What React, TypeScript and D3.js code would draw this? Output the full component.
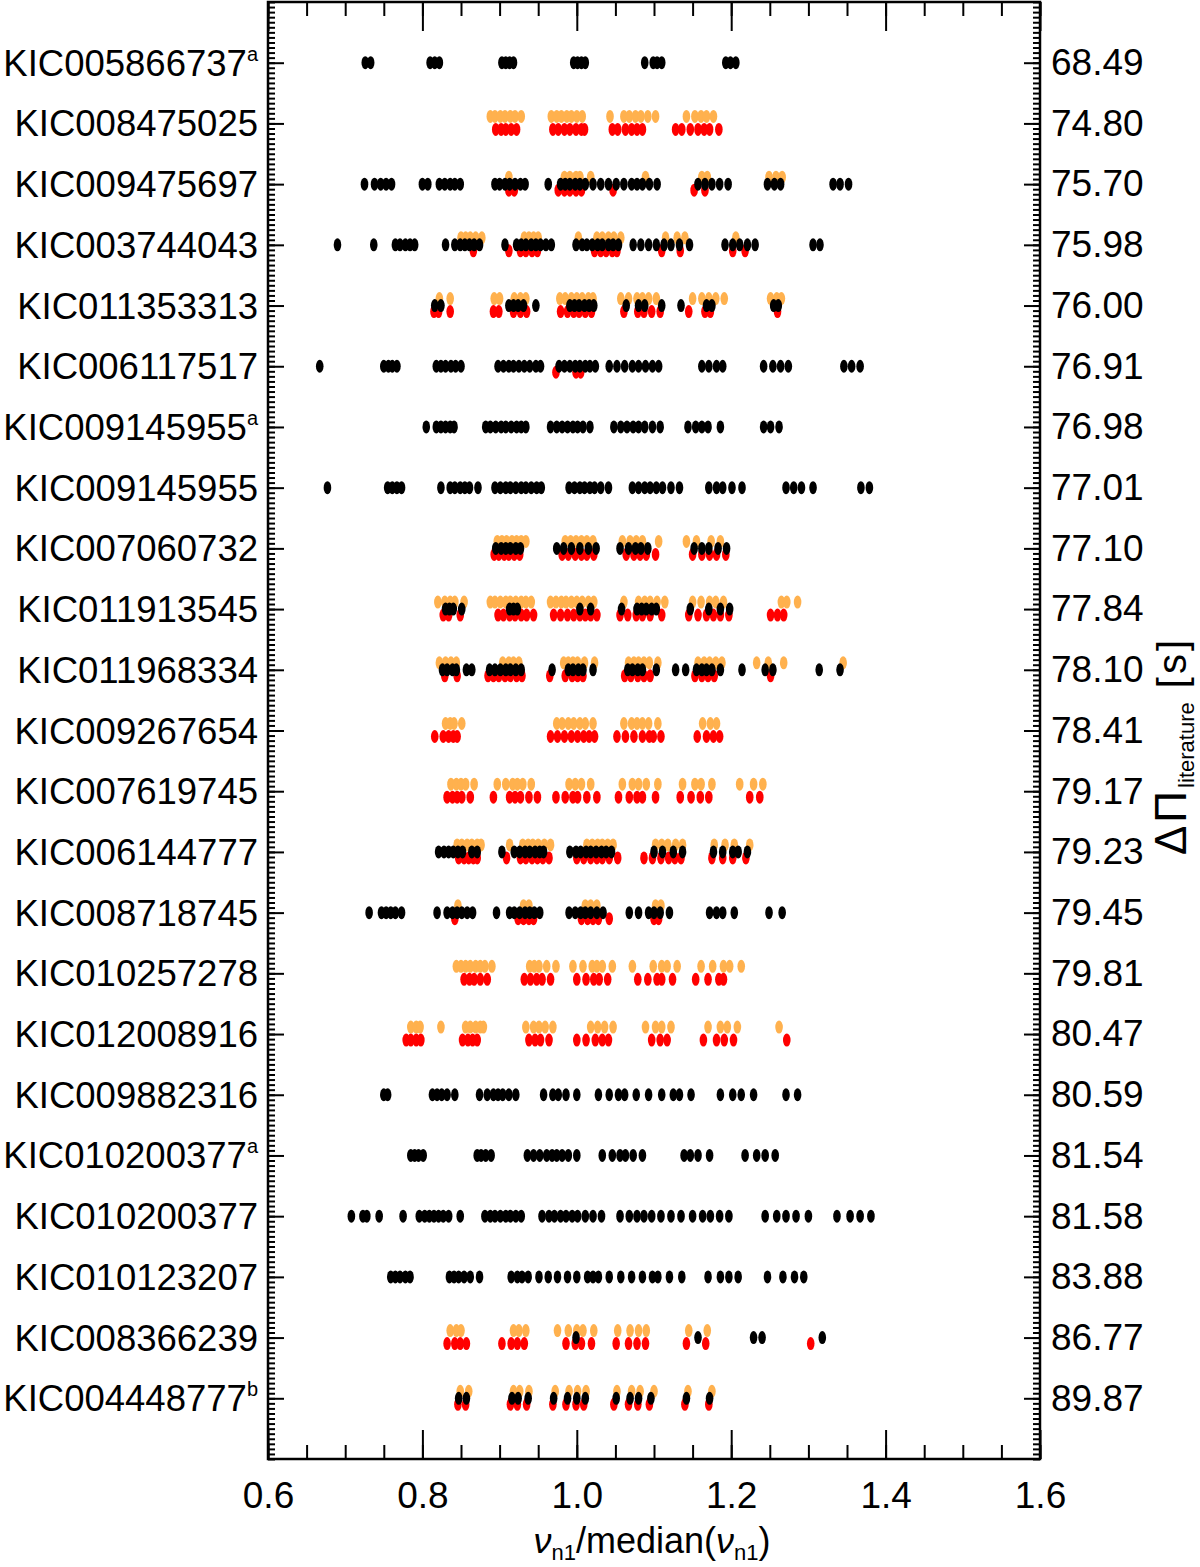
import React, { useEffect, useRef } from "react";
import * as d3 from "d3";

// canvas and plot box
const width = 1200;
const height = 1567;
const plot = { left: 268, right: 1040, top: 2, bottom: 1459 };
const font = "'Liberation Sans', Arial, sans-serif";

// stars, top to bottom
const stars = [
  "KIC005866737", "KIC008475025", "KIC009475697", "KIC003744043", "KIC011353313",
  "KIC006117517", "KIC009145955", "KIC009145955", "KIC007060732", "KIC011913545",
  "KIC011968334", "KIC009267654", "KIC007619745", "KIC006144777", "KIC008718745",
  "KIC010257278", "KIC012008916", "KIC009882316", "KIC010200377", "KIC010200377",
  "KIC010123207", "KIC008366239", "KIC004448777",
];
const notes = ["a", "", "", "", "", "", "a", "", "", "", "", "", "", "", "", "", "", "", "a", "", "", "", "b"];
const deltaPi = [
  "68.49", "74.80", "75.70", "75.98", "76.00", "76.91", "76.98", "77.01", "77.10", "77.84",
  "78.10", "78.41", "79.17", "79.23", "79.45", "79.81", "80.47", "80.59", "81.54", "81.58",
  "83.88", "86.77", "89.87",
];

const xTicks = [0.6, 0.8, 1.0, 1.2, 1.4, 1.6];

// nu / median(nu), one list per star
const blackPoints: number[][] = [
  [0.726, 0.733, 0.81, 0.816, 0.822, 0.903, 0.908, 0.913, 0.918, 0.996, 1.001, 1.006, 1.011, 1.088, 1.099, 1.104, 1.11, 1.193, 1.199, 1.206],
  [],
  [0.725, 0.738, 0.746, 0.753, 0.76, 0.8, 0.807, 0.822, 0.829, 0.836, 0.842, 0.849, 0.894, 0.9, 0.907, 0.913, 0.92, 0.927, 0.933, 0.963, 0.979, 0.985, 0.991, 0.998, 1.004, 1.011, 1.021, 1.031, 1.041, 1.051, 1.061, 1.071, 1.078, 1.085, 1.094, 1.104, 1.157, 1.166, 1.175, 1.185, 1.196, 1.247, 1.256, 1.264, 1.332, 1.341, 1.352],
  [0.69, 0.737, 0.765, 0.771, 0.778, 0.784, 0.79, 0.83, 0.842, 0.849, 0.855, 0.861, 0.867, 0.874, 0.907, 0.922, 0.928, 0.934, 0.941, 0.947, 0.953, 0.96, 0.967, 0.999, 1.007, 1.013, 1.02, 1.027, 1.033, 1.041, 1.047, 1.054, 1.073, 1.083, 1.093, 1.103, 1.113, 1.122, 1.133, 1.146, 1.192, 1.202, 1.211, 1.221, 1.231, 1.306, 1.315],
  [0.816, 0.824, 0.912, 0.918, 0.924, 0.931, 0.947, 0.991, 0.997, 1.003, 1.01, 1.016, 1.022, 1.064, 1.08, 1.088, 1.11, 1.135, 1.168, 1.175, 1.255, 1.261],
  [0.667, 0.75, 0.756, 0.761, 0.767, 0.818, 0.824, 0.83, 0.837, 0.843, 0.85, 0.898, 0.905, 0.912, 0.918, 0.925, 0.932, 0.939, 0.947, 0.953, 0.977, 0.984, 0.991, 0.998, 1.004, 1.011, 1.017, 1.024, 1.042, 1.052, 1.062, 1.072, 1.08, 1.089, 1.098, 1.106, 1.162, 1.171, 1.181, 1.189, 1.242, 1.254, 1.264, 1.274, 1.346, 1.356, 1.367],
  [0.805, 0.818, 0.824, 0.83, 0.836, 0.841, 0.882, 0.888, 0.895, 0.902, 0.908, 0.915, 0.922, 0.928, 0.934, 0.966, 0.974, 0.981, 0.988, 0.995, 1.001, 1.008, 1.017, 1.048, 1.057, 1.065, 1.073, 1.08, 1.088, 1.098, 1.108, 1.144, 1.154, 1.162, 1.17, 1.186, 1.242, 1.251, 1.262],
  [0.677, 0.755, 0.761, 0.767, 0.773, 0.824, 0.836, 0.842, 0.849, 0.855, 0.861, 0.872, 0.894, 0.901, 0.908, 0.914, 0.921, 0.928, 0.934, 0.941, 0.948, 0.954, 0.99, 0.997, 1.004, 1.01, 1.017, 1.023, 1.031, 1.041, 1.072, 1.08, 1.088, 1.095, 1.103, 1.111, 1.122, 1.133, 1.171, 1.181, 1.189, 1.201, 1.214, 1.271, 1.281, 1.291, 1.306, 1.368, 1.379],
  [0.895, 0.902, 0.908, 0.914, 0.921, 0.927, 0.974, 0.983, 0.993, 1.004, 1.015, 1.025, 1.056, 1.067, 1.076, 1.083, 1.092, 1.152, 1.162, 1.171, 1.183, 1.194],
  [0.83, 0.835, 0.84, 0.851, 0.913, 0.918, 0.923, 1.004, 1.018, 1.058, 1.078, 1.084, 1.09, 1.097, 1.103, 1.147, 1.171, 1.186, 1.198],
  [0.826, 0.832, 0.839, 0.844, 0.857, 0.864, 0.887, 0.894, 0.901, 0.908, 0.914, 0.921, 0.928, 0.968, 0.989, 0.995, 1.002, 1.008, 1.021, 1.066, 1.072, 1.079, 1.085, 1.103, 1.128, 1.141, 1.155, 1.162, 1.168, 1.175, 1.186, 1.214, 1.244, 1.254, 1.314, 1.341],
  [],
  [],
  [0.821, 0.828, 0.834, 0.84, 0.846, 0.852, 0.864, 0.871, 0.903, 0.919, 0.926, 0.933, 0.939, 0.946, 0.952, 0.957, 0.991, 0.999, 1.005, 1.012, 1.018, 1.025, 1.032, 1.038, 1.045, 1.1, 1.111, 1.125, 1.137, 1.177, 1.189, 1.202, 1.209, 1.221],
  [0.731, 0.747, 0.753, 0.759, 0.765, 0.773, 0.819, 0.832, 0.839, 0.845, 0.851, 0.858, 0.865, 0.896, 0.913, 0.919, 0.926, 0.933, 0.939, 0.945, 0.952, 0.99, 0.998, 1.005, 1.011, 1.018, 1.026, 1.034, 1.068, 1.08, 1.093, 1.1, 1.108, 1.12, 1.172, 1.181, 1.189, 1.204, 1.249, 1.266],
  [],
  [],
  [0.75, 0.755, 0.813, 0.819, 0.825, 0.832, 0.842, 0.874, 0.884, 0.892, 0.898, 0.904, 0.912, 0.921, 0.957, 0.969, 0.976, 0.986, 1.0, 1.028, 1.042, 1.054, 1.062, 1.077, 1.093, 1.11, 1.125, 1.133, 1.148, 1.186, 1.202, 1.213, 1.229, 1.271, 1.286],
  [0.785, 0.79, 0.795, 0.801, 0.871, 0.876, 0.882, 0.889, 0.936, 0.944, 0.952, 0.961, 0.968, 0.974, 0.981, 0.989, 1.0, 1.033, 1.046, 1.056, 1.063, 1.073, 1.085, 1.139, 1.147, 1.157, 1.172, 1.218, 1.233, 1.244, 1.257],
  [0.708, 0.723, 0.728, 0.744, 0.775, 0.796, 0.803, 0.809, 0.815, 0.821, 0.827, 0.834, 0.849, 0.881, 0.888, 0.894, 0.901, 0.908, 0.914, 0.921, 0.928, 0.955, 0.964, 0.971, 0.979, 0.986, 0.994, 1.001, 1.011, 1.021, 1.032, 1.056, 1.068, 1.078, 1.087, 1.097, 1.109, 1.122, 1.135, 1.15, 1.163, 1.173, 1.185, 1.197, 1.244, 1.259, 1.271, 1.284, 1.3, 1.337, 1.354, 1.367, 1.381],
  [0.759, 0.765, 0.771, 0.778, 0.784, 0.835, 0.841, 0.847, 0.854, 0.862, 0.874, 0.915, 0.923, 0.929, 0.937, 0.951, 0.963, 0.975, 0.988, 1.0, 1.014, 1.021, 1.028, 1.042, 1.057, 1.071, 1.085, 1.098, 1.105, 1.12, 1.136, 1.17, 1.186, 1.197, 1.209, 1.247, 1.267, 1.282, 1.294],
  [0.999, 1.157, 1.229, 1.24, 1.318],
  [0.847, 0.857, 0.916, 0.924, 0.937, 0.97, 0.988, 1.0, 1.011, 1.051, 1.069, 1.08, 1.096, 1.142, 1.172],
];

const orangePoints: number[][] = [
  [],
  [0.888, 0.894, 0.901, 0.907, 0.914, 0.92, 0.928, 0.967, 0.974, 0.98, 0.987, 0.993, 1.0, 1.007, 1.043, 1.061, 1.068, 1.076, 1.083, 1.092, 1.102, 1.142, 1.153, 1.161, 1.168, 1.177],
  [0.912, 0.984, 0.991, 0.999, 1.004, 1.018, 1.089, 1.162, 1.169, 1.249, 1.258, 1.266],
  [0.85, 0.856, 0.862, 0.869, 0.877, 0.932, 0.938, 0.944, 0.95, 1.002, 1.026, 1.033, 1.041, 1.048, 1.057, 1.115, 1.13, 1.14, 1.206],
  [0.822, 0.836, 0.893, 0.9, 0.919, 0.927, 0.934, 0.978, 0.985, 0.993, 1.0, 1.007, 1.015, 1.021, 1.057, 1.067, 1.078, 1.085, 1.093, 1.103, 1.15, 1.162, 1.171, 1.18, 1.191, 1.251, 1.259, 1.265],
  [],
  [],
  [],
  [0.897, 0.903, 0.909, 0.916, 0.922, 0.928, 0.934, 0.985, 0.992, 0.999, 1.006, 1.013, 1.021, 1.059, 1.069, 1.077, 1.085, 1.106, 1.142, 1.155, 1.174, 1.186],
  [0.82, 0.829, 0.836, 0.842, 0.854, 0.888, 0.894, 0.901, 0.908, 0.914, 0.921, 0.928, 0.934, 0.941, 0.966, 0.973, 0.98, 0.986, 0.993, 1.0, 1.007, 1.015, 1.022, 1.061, 1.08, 1.088, 1.095, 1.104, 1.114, 1.15, 1.161, 1.172, 1.18, 1.19, 1.265, 1.272, 1.286],
  [0.822, 0.83, 0.837, 0.844, 0.904, 0.912, 0.918, 0.925, 0.983, 0.989, 0.995, 1.001, 1.01, 1.023, 1.067, 1.074, 1.08, 1.087, 1.094, 1.105, 1.157, 1.165, 1.172, 1.18, 1.188, 1.233, 1.248, 1.268, 1.345],
  [0.83, 0.836, 0.841, 0.851, 0.974, 0.981, 0.989, 0.996, 1.004, 1.011, 1.021, 1.061, 1.071, 1.078, 1.085, 1.093, 1.105, 1.163, 1.173, 1.181],
  [0.837, 0.844, 0.85, 0.856, 0.867, 0.897, 0.908, 0.917, 0.923, 0.93, 0.941, 0.99, 0.998, 1.006, 1.018, 1.059, 1.072, 1.08, 1.09, 1.105, 1.137, 1.153, 1.161, 1.175, 1.211, 1.229, 1.241],
  [0.845, 0.851, 0.858, 0.864, 0.871, 0.876, 0.913, 0.93, 0.937, 0.943, 0.95, 0.958, 0.966, 1.013, 1.02, 1.027, 1.033, 1.04, 1.047, 1.102, 1.11, 1.118, 1.128, 1.137, 1.178, 1.192, 1.204, 1.224],
  [0.846, 0.931, 0.938, 1.011, 1.018, 1.026, 1.102, 1.109],
  [0.844, 0.85, 0.856, 0.862, 0.869, 0.875, 0.881, 0.89, 0.939, 0.945, 0.951, 0.961, 0.973, 0.995, 1.008, 1.02, 1.026, 1.033, 1.046, 1.072, 1.099, 1.11, 1.117, 1.13, 1.161, 1.176, 1.19, 1.198, 1.213],
  [0.785, 0.792, 0.797, 0.824, 0.856, 0.862, 0.869, 0.875, 0.879, 0.934, 0.944, 0.951, 0.959, 0.969, 1.018, 1.027, 1.036, 1.047, 1.089, 1.102, 1.11, 1.122, 1.17, 1.186, 1.195, 1.208, 1.262],
  [],
  [],
  [],
  [],
  [0.836, 0.844, 0.85, 0.918, 0.925, 0.934, 0.975, 0.989, 1.0, 1.008, 1.022, 1.053, 1.069, 1.08, 1.09, 1.145, 1.169],
  [0.849, 0.86, 0.918, 0.926, 0.938, 0.972, 0.99, 1.001, 1.012, 1.052, 1.071, 1.082, 1.1, 1.144, 1.175],
];

const redPoints: number[][] = [
  [],
  [0.895, 0.902, 0.908, 0.915, 0.922, 0.969, 0.976, 0.984, 0.991, 0.999, 1.006, 1.01, 1.046, 1.053, 1.063, 1.071, 1.078, 1.085, 1.128, 1.136, 1.147, 1.157, 1.165, 1.172, 1.184],
  [0.912, 0.919, 0.976, 0.984, 0.991, 0.999, 1.006, 1.047, 1.152, 1.166],
  [0.866, 0.912, 0.927, 0.934, 0.942, 0.949, 1.023, 1.031, 1.038, 1.046, 1.052, 1.11, 1.134, 1.202, 1.218],
  [0.815, 0.821, 0.836, 0.892, 0.899, 0.918, 0.927, 0.935, 0.979, 0.988, 0.996, 1.003, 1.011, 1.019, 1.061, 1.079, 1.087, 1.097, 1.108, 1.145, 1.166, 1.173, 1.26],
  [0.973, 0.999, 1.005],
  [],
  [],
  [0.893, 0.899, 0.906, 0.912, 0.919, 0.926, 0.981, 0.989, 0.998, 1.006, 1.013, 1.022, 1.064, 1.074, 1.082, 1.09, 1.102, 1.15, 1.162, 1.172, 1.181, 1.193],
  [0.827, 0.834, 0.849, 0.898, 0.905, 0.913, 0.92, 0.928, 0.935, 0.944, 0.97, 0.979, 0.988, 0.996, 1.004, 1.011, 1.018, 1.026, 1.056, 1.066, 1.077, 1.085, 1.095, 1.11, 1.145, 1.157, 1.168, 1.177, 1.186, 1.197, 1.251, 1.26, 1.268],
  [0.829, 0.845, 0.885, 0.892, 0.899, 0.907, 0.914, 0.922, 0.929, 0.965, 0.985, 0.994, 1.001, 1.008, 1.062, 1.07, 1.079, 1.087, 1.095, 1.153, 1.162, 1.17, 1.178, 1.251],
  [0.816, 0.827, 0.834, 0.84, 0.845, 0.966, 0.975, 0.984, 0.993, 1.001, 1.009, 1.016, 1.023, 1.052, 1.063, 1.074, 1.085, 1.094, 1.099, 1.109, 1.156, 1.168, 1.177, 1.185],
  [0.832, 0.839, 0.845, 0.851, 0.862, 0.892, 0.913, 0.92, 0.927, 0.938, 0.949, 0.973, 0.985, 0.995, 1.001, 1.013, 1.026, 1.054, 1.068, 1.078, 1.085, 1.102, 1.134, 1.148, 1.16, 1.171, 1.224, 1.237],
  [0.847, 0.854, 0.86, 0.866, 0.871, 0.909, 0.927, 0.934, 0.942, 0.949, 0.956, 0.964, 1.0, 1.009, 1.018, 1.026, 1.033, 1.042, 1.053, 1.087, 1.098, 1.109, 1.119, 1.127, 1.135, 1.175, 1.189, 1.202, 1.219],
  [0.842, 0.924, 0.931, 0.938, 0.944, 1.006, 1.014, 1.021, 1.028, 1.042, 1.1, 1.106],
  [0.854, 0.861, 0.867, 0.875, 0.884, 0.932, 0.94, 0.948, 0.955, 0.966, 1.0, 1.012, 1.022, 1.029, 1.04, 1.079, 1.092, 1.104, 1.11, 1.124, 1.154, 1.17, 1.184, 1.19],
  [0.779, 0.785, 0.792, 0.798, 0.852, 0.859, 0.865, 0.871, 0.938, 0.946, 0.953, 0.964, 1.0, 1.012, 1.024, 1.033, 1.041, 1.097, 1.108, 1.117, 1.164, 1.181, 1.191, 1.203, 1.272],
  [],
  [],
  [],
  [],
  [0.832, 0.842, 0.849, 0.857, 0.903, 0.915, 0.923, 0.932, 0.986, 0.998, 1.006, 1.019, 1.051, 1.067, 1.078, 1.089, 1.142, 1.167, 1.303],
  [0.846, 0.856, 0.914, 0.923, 0.935, 0.969, 0.986, 0.999, 1.009, 1.048, 1.067, 1.079, 1.094, 1.14, 1.171],
];

// draw order: orange under red under black
const layers = [
  { points: orangePoints, color: "#ffb14e", dy: -7 },
  { points: redPoints, color: "#ff0000", dy: 6 },
  { points: blackPoints, color: "#000000", dy: 0 },
];

const App = () => {
  const svgRef = useRef<SVGSVGElement>(null);

  useEffect(() => {
    document.body.style.margin = "0";
    const svg = d3.select(svgRef.current);
    svg.selectAll("*").remove();

    const x = d3.scaleLinear().domain([0.6, 1.6]).range([plot.left, plot.right]);
    const y = d3.scaleLinear().domain([0, 24]).range([plot.bottom, plot.top]);
    const rowY = (i: number) => y(stars.length - i);

    const minorX = d3.range(0, 21).map((i) => 0.6 + i * 0.05);
    const minorY = d3.range(0, 24 * 12 + 1).map((i) => i / 12);
    const majorY = d3.range(1, 24);

    const tidy = (g: any) => {
      g.select(".domain").remove();
      g.selectAll("line").attr("stroke", "#000").attr("stroke-width", 2);
      g.attr("font-family", font).attr("font-size", 37);
      g.selectAll("text").attr("fill", "#000");
    };
    const blank = () => "";

    // bottom
    svg.append("g").attr("transform", `translate(0,${plot.bottom})`)
      .call(d3.axisBottom(x).tickValues(minorX).tickSizeInner(-14).tickSizeOuter(0).tickFormat(blank))
      .call(tidy);
    svg.append("g").attr("transform", `translate(0,${plot.bottom})`)
      .call(d3.axisBottom(x).tickValues(xTicks).tickSizeInner(-29).tickSizeOuter(0).tickPadding(23).tickFormat(d3.format(".1f")))
      .call(tidy);
    // top
    svg.append("g").attr("transform", `translate(0,${plot.top})`)
      .call(d3.axisTop(x).tickValues(minorX).tickSizeInner(-14).tickSizeOuter(0).tickFormat(blank))
      .call(tidy);
    svg.append("g").attr("transform", `translate(0,${plot.top})`)
      .call(d3.axisTop(x).tickValues(xTicks).tickSizeInner(-29).tickSizeOuter(0).tickFormat(blank))
      .call(tidy);
    // left
    svg.append("g").attr("transform", `translate(${plot.left},0)`)
      .call(d3.axisLeft(y).tickValues(minorY).tickSizeInner(-7).tickSizeOuter(0).tickFormat(blank))
      .call(tidy);
    svg.append("g").attr("transform", `translate(${plot.left},0)`)
      .call(d3.axisLeft(y).tickValues(majorY).tickSizeInner(-16).tickSizeOuter(0).tickFormat(blank))
      .call(tidy);
    // right, with the period spacings
    svg.append("g").attr("transform", `translate(${plot.right},0)`)
      .call(d3.axisRight(y).tickValues(minorY).tickSizeInner(-7).tickSizeOuter(0).tickFormat(blank))
      .call(tidy);
    svg.append("g").attr("transform", `translate(${plot.right},0)`)
      .call(
        d3.axisRight(y).tickValues(majorY).tickSizeInner(-16).tickSizeOuter(0).tickPadding(11)
          .tickFormat((d: any) => deltaPi[stars.length - d])
      )
      .call(tidy);

    // frame
    svg.append("rect")
      .attr("x", plot.left).attr("y", plot.top)
      .attr("width", plot.right - plot.left).attr("height", plot.bottom - plot.top)
      .attr("fill", "none").attr("stroke", "#000").attr("stroke-width", 2.5);

    // dots
    layers.forEach((layer) => {
      const flat = layer.points.flatMap((row, i) => row.map((v) => ({ v, i })));
      svg.append("g").selectAll("ellipse").data(flat).join("ellipse")
        .attr("cx", (d) => x(d.v))
        .attr("cy", (d) => rowY(d.i) + layer.dy)
        .attr("rx", 3.8).attr("ry", 6.5)
        .attr("fill", layer.color);
    });

    // star names
    svg.append("g").attr("font-family", font).attr("font-size", 36.5)
      .selectAll("text").data(stars).join("text")
      .attr("x", 258).attr("y", (d, i) => rowY(i) + 13)
      .attr("text-anchor", "end")
      .each(function (d, i) {
        const t = d3.select(this);
        t.append("tspan").text(d);
        if (notes[i]) t.append("tspan").attr("dy", -15).attr("font-size", 20).text(notes[i]);
      });

    // x title
    const xt = svg.append("text").attr("x", 652).attr("y", 1553)
      .attr("text-anchor", "middle").attr("font-family", font).attr("font-size", 36);
    xt.append("tspan").attr("font-style", "italic").text("ν");
    xt.append("tspan").attr("dy", 7).attr("font-size", 22).text("n1");
    xt.append("tspan").attr("dy", -7).text("/median(");
    xt.append("tspan").attr("font-style", "italic").text("ν");
    xt.append("tspan").attr("dy", 7).attr("font-size", 22).text("n1");
    xt.append("tspan").attr("dy", -7).text(")");

    // right title
    const yt = svg.append("text")
      .attr("transform", "translate(1186,746) rotate(-90)")
      .attr("text-anchor", "middle").attr("font-family", font).attr("font-size", 44);
    yt.append("tspan").attr("letter-spacing", 3).text("ΔΠ");
    yt.append("tspan").attr("dy", 8).attr("font-size", 22).text("literature");
    yt.append("tspan").attr("dy", -8).attr("font-size", 40).attr("letter-spacing", 3).text(" [s]");
  }, []);

  return <svg ref={svgRef} width={width} height={height} style={{ display: "block", background: "#fff" }} />;
};

export default App;
